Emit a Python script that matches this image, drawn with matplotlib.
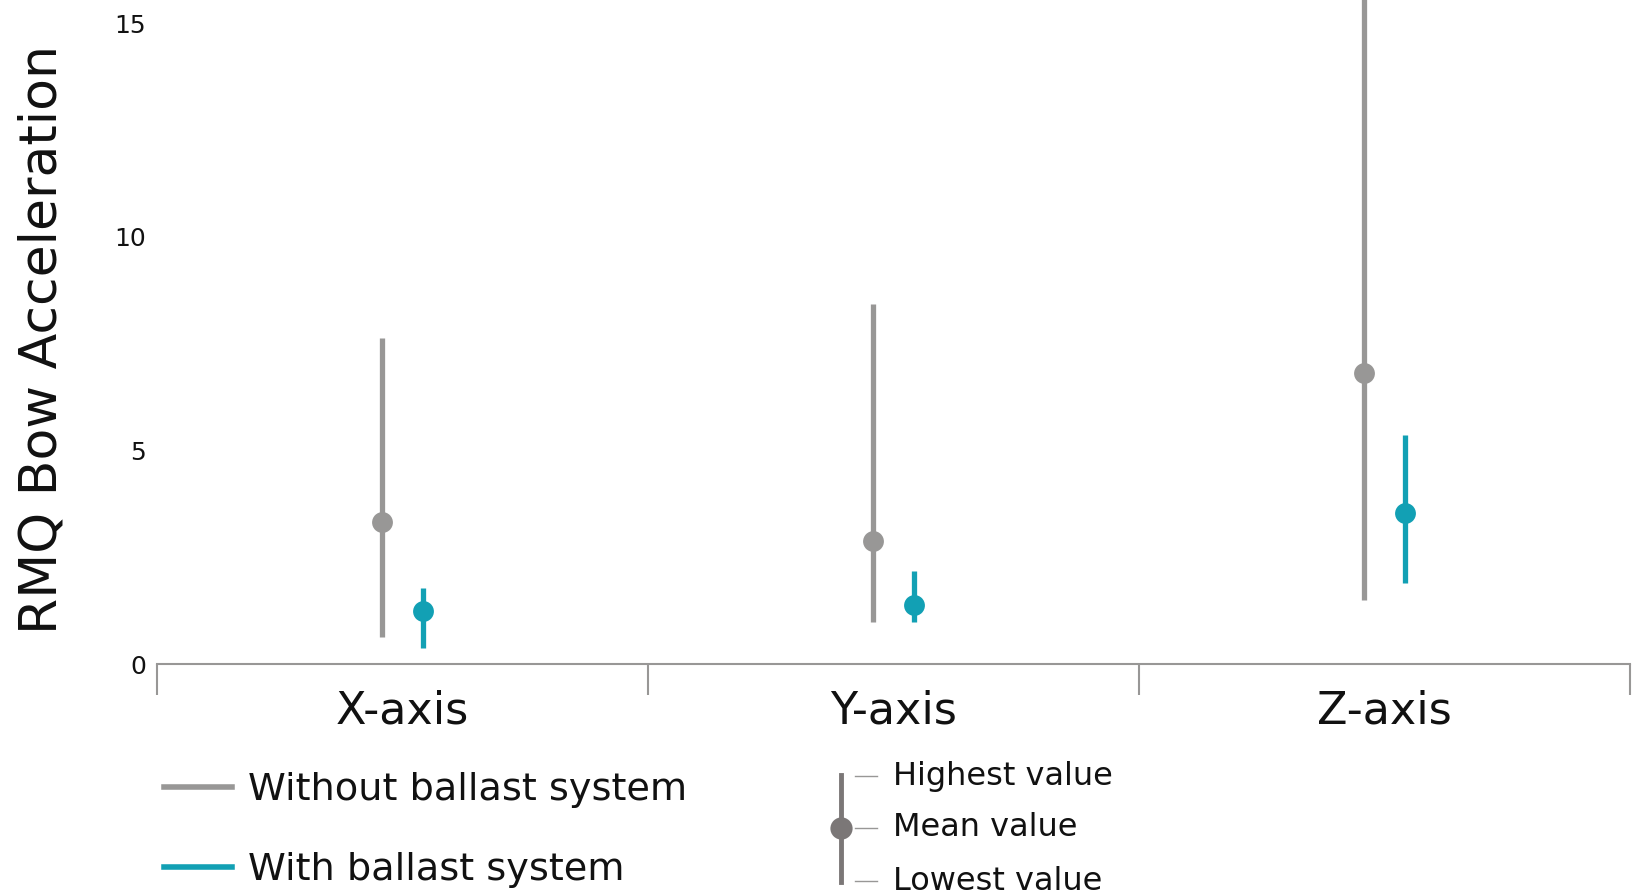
import matplotlib
matplotlib.use("Agg")
import matplotlib.pyplot as plt
import numpy as np

plt.rcParams['font.family'] = ['DejaVu Sans']

# RMQ bow acceleration per axis: highest, mean, lowest
axes_names = ["X-axis", "Y-axis", "Z-axis"]
no_ballast_high = [7.62, 8.43, 16.8]
no_ballast_mean = [3.33, 2.87, 6.81]
no_ballast_low = [0.64, 0.98, 1.50]
ballast_high = [1.79, 2.18, 5.37]
ballast_mean = [1.23, 1.37, 3.53]
ballast_low = [0.37, 0.98, 1.89]

gray = '#989796'
teal = '#12a0b4'
dot_gray = '#7b7777'
ink = '#111111'

W, H = 1642, 896
fig = plt.figure(figsize=(W/100, H/100), dpi=100)
ax = fig.add_axes([157/W, 1 - 664/H, 1473/W, 664/H])

x = np.arange(len(axes_names))
off = 0.042
ax.vlines(x - off, no_ballast_low, no_ballast_high, color=gray, lw=3.8)
ax.plot(x - off, no_ballast_mean, 'o', color=gray, ms=15, mew=0)
ax.vlines(x + off, ballast_low, ballast_high, color=teal, lw=3.8)
ax.plot(x + off, ballast_mean, 'o', color=teal, ms=15, mew=0)

ax.set_xlim(-0.5, 2.5)
ax.set_ylim(0, 15.54)
ax.set_yticks([0, 5, 10, 15])
ax.tick_params(axis='y', length=0, pad=8, labelsize=18, labelcolor=ink)
ax.set_xticks(x)
ax.set_xticklabels(axes_names)
ax.set_xticks([-0.5, 0.5, 1.5, 2.5], minor=True)
ax.tick_params(axis='x', which='major', length=0, pad=18, labelsize=32, labelcolor=ink)
ax.tick_params(axis='x', which='minor', length=22, width=1.5, color=gray)
for s in ['top', 'right', 'left']:
    ax.spines[s].set_visible(False)
ax.spines['bottom'].set_color(gray)
ax.spines['bottom'].set_linewidth(1.5)

fig.text(43/W, 1 - 339/H, "RMQ Bow Acceleration", rotation=90, ha='center', va='center',
         fontsize=37.5, color=ink)

# legend drawn in pixel coordinates
lg = fig.add_axes([0, 0, 1, 1])
lg.set_xlim(0, W)
lg.set_ylim(H, 0)
lg.axis('off')
lg.plot([164, 232], [787, 787], color=gray, lw=4)
lg.plot([164, 232], [867, 867], color=teal, lw=4)
lg.text(248, 790, "Without ballast system", va='center', fontsize=27.5, color=ink)
lg.text(248, 870, "With ballast system", va='center', fontsize=27.5, color=ink)

lg.plot([841, 841], [775, 882], color=dot_gray, lw=3.5)
lg.plot([841], [828], 'o', color=dot_gray, ms=16, mew=0)
for yy, txt in zip([776, 828, 881], ["Highest value", "Mean value", "Lowest value"]):
    lg.plot([855, 877], [yy, yy], color=gray, lw=1)
    lg.text(893, yy, txt, va='center', fontsize=23, color=ink)

fig.savefig("out.png", dpi=100)
